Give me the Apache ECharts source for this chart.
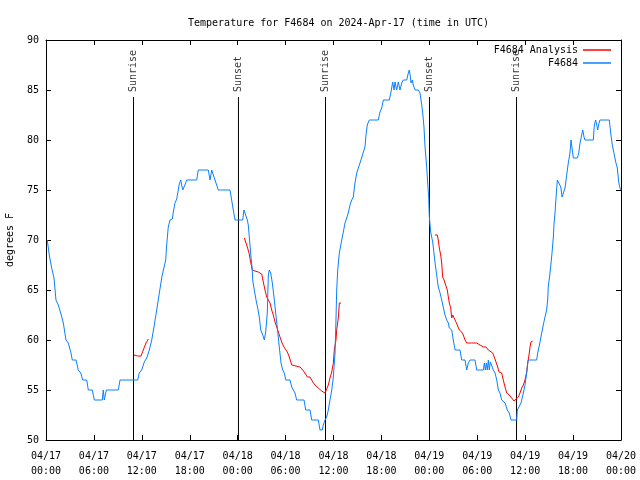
<!DOCTYPE html>
<html>
<head>
<meta charset="utf-8">
<script src="https://cdn.jsdelivr.net/npm/echarts@6/dist/echarts.min.js"></script>
<style>html,body{margin:0;padding:0;background:#fff}#c{width:640px;height:480px}</style>
</head>
<body>
<div id="c"></div>
<script>
// X ticks every 6 hours from 04/17 00:00 (x values are hours since start)
const tickLabels = ['04/17\n00:00','04/17\n06:00','04/17\n12:00','04/17\n18:00','04/18\n00:00','04/18\n06:00','04/18\n12:00','04/18\n18:00','04/19\n00:00','04/19\n06:00','04/19\n12:00','04/19\n18:00','04/20\n00:00'];

// Sunrise / sunset events (hours since start)
const eventHours = [10.96, 24.10, 35.00, 48.02, 58.92];
const eventNames = ['Sunrise', 'Sunset', 'Sunrise', 'Sunset', 'Sunrise'];

// F4684 observations
const obsHours = [0.16,0.41,0.71,1.00,1.25,1.54,1.84,2.17,2.50,2.79,3.13,3.29,3.76,4.04,4.35,4.60,5.10,5.30,5.80,6.05,7.05,7.17,7.30,7.43,7.55,9.05,9.27,11.48,11.68,11.98,12.31,12.61,12.94,13.24,13.52,13.86,14.19,14.53,14.99,15.11,15.31,15.53,15.82,15.94,16.15,16.37,16.57,16.69,16.87,16.99,17.12,17.32,17.49,17.62,18.87,19.07,20.32,20.54,20.75,20.95,21.16,21.37,21.58,23.04,23.25,23.45,23.67,24.63,24.79,25.04,25.21,25.33,25.54,25.67,25.83,25.88,26.08,26.30,26.51,26.71,26.89,27.14,27.34,27.51,27.71,27.84,27.96,28.14,28.34,28.55,28.76,28.96,29.21,29.43,29.64,29.84,30.02,30.55,30.77,30.97,31.18,31.39,32.31,32.52,33.06,33.27,34.10,34.31,34.60,34.72,34.94,35.15,35.35,35.56,35.78,35.98,36.19,36.31,36.40,36.53,36.73,37.03,37.23,37.44,37.65,37.85,38.07,38.28,38.48,38.69,38.91,39.11,39.32,39.44,39.66,39.82,39.94,40.07,40.23,40.48,41.61,41.82,42.04,42.24,42.99,43.20,43.41,43.58,43.70,43.91,44.11,44.33,44.54,44.74,45.17,45.37,45.49,45.58,45.71,45.87,45.99,46.21,46.62,46.83,47.05,47.17,47.33,47.46,47.67,47.79,47.92,48.00,48.17,48.42,48.58,48.75,48.92,49.12,49.34,49.55,49.75,49.96,50.18,50.38,50.50,50.80,51.00,51.22,51.84,52.05,52.47,52.68,52.88,53.09,53.72,53.93,54.76,54.89,55.01,55.14,55.26,55.39,55.51,55.64,55.81,56.01,56.23,56.44,56.64,56.85,57.06,57.48,57.76,58.01,58.23,58.94,59.02,59.27,59.48,59.77,59.98,60.19,60.32,60.39,61.44,61.57,61.86,62.07,62.27,62.48,62.69,62.82,62.89,63.11,63.24,63.36,63.53,63.62,63.74,63.86,64.03,64.28,64.46,64.62,64.78,64.99,65.20,65.40,65.61,65.74,65.90,66.03,66.53,66.71,66.87,67.08,67.21,67.37,67.49,68.53,68.66,68.83,68.96,69.08,69.25,69.37,70.54,70.71,70.91,71.12,71.34,71.54,71.71,71.87,72.00];
const obsTemps = [70,68.5,67.2,66.2,64,63.5,62.7,61.7,60,59.7,58.7,58,58,57,56.7,56,56,55,55,54,54,55,54,54,55,55,56,56,56.7,57,57.8,58.2,59,60,61.3,63,64.7,66.4,68,69.5,71.3,72,72.1,72.8,73.7,74.1,74,75.6,76,75.5,75,75,75.7,76,76,77,77,76,77,76.5,76,75.8,75,75,74,73,72,72,73,73,72,71.5,69.5,68.3,67,66,65,64,63.2,62.3,61,60.5,60,60.8,62.7,66.5,67,66.7,65.7,64.3,62.7,61.3,59.3,57.7,57,56.7,56,56,55.3,55,54.7,54,54,53,53,52,52,51,51,51.5,52,52.3,53,54,55,56.3,58.7,62,65,67,68.7,70,70.8,71.7,72.2,72.7,73.5,74,74.3,75.7,76.7,77.2,77.3,78,78.2,79,79.3,80.5,81.5,82,82,82.8,83.2,84,84,84.8,85.8,85,85.8,85,85.8,85,85.7,86,86,86.7,87,86.6,85.7,86,85.5,85,85,84.7,83.5,82.7,81.3,79.3,77.3,75.7,74.3,72.3,70.8,69.8,68.7,67.5,66.5,65.3,64.7,64,64,62.5,62,61.7,61.2,61,60,59,59,58,58,57,57.7,58,58,57,57,57.7,57,57.7,57,58,57,57.8,58,57,56.7,56,55,54.7,54,53.7,53,52.7,52,52,53,53,53.7,54.7,55.5,56.7,57.7,58,58,58.7,59.8,60.7,61.5,62.3,63,64,65.3,66.7,67.7,68.7,70.3,71.7,72.7,74.2,76,76,75.3,74.3,74.5,75.2,76.5,77.7,78.7,80,79,78.2,78.2,78.7,79.7,80.5,81,80.3,80,80,81.5,82,81.5,81,81.7,82,82,80.7,79.5,78.7,77.8,77.2,75.8,75.2,75];

// F4684 Analysis (three separate runs)
const ana1Hours = [11.02,11.48,11.90,12.18,12.52,12.81];
const ana1Temps = [58.5,58.4,58.4,59,59.7,60.1];
const ana2Hours = [24.83,25.01,25.21,25.42,25.63,25.83,26.17,26.58,27.01,27.21,27.42,27.64,27.84,28.05,28.26,28.46,28.68,28.89,29.09,29.30,29.51,29.80,30.02,30.22,30.47,30.77,30.97,31.81,32.14,32.43,32.72,33.06,33.40,33.68,34.10,34.52,34.94,35.15,35.35,35.56,35.78,35.98,36.10,36.31,36.40,36.60,36.73,36.94];
const ana2Temps = [70.2,70.4,69.3,68.7,67.8,67,66.9,66.8,66.6,65.8,65,64.3,64,63.7,63,62.5,61.8,61.3,60.8,60.3,59.8,59.3,59.3,58.8,58.3,57.5,57.4,57.3,57,56.7,56.3,56.3,55.8,55.5,55.2,54.9,54.7,54.8,55.5,56.2,56.8,57.7,59,60,61,62.2,63.7,63.7];
const ana3Hours = [48.71,49.00,49.12,49.25,49.42,49.55,49.67,49.84,49.96,50.09,50.25,50.38,50.50,50.68,50.80,50.93,51.09,51.34,51.50,51.75,52.05,52.25,52.47,52.68,52.88,53.31,53.93,54.35,54.76,55.10,55.39,55.60,55.94,56.10,56.35,56.56,56.72,57.06,57.26,57.48,57.69,58.01,58.31,58.60,58.85,59.14,59.35,59.57,59.77,59.98,60.19,60.32,60.48,60.61,60.73,60.94];
const ana3Temps = [70.5,70.5,70,69.2,68.5,67.7,66.3,66,66.2,65.8,65,64.3,63.7,63.2,62.2,62.5,62.3,61.8,61.5,61,60.8,60.5,60,59.7,59.6,59.7,59.7,59.5,59.3,59.3,59,58.8,58.7,58.5,57.8,57.3,56.8,56.7,56,55.3,54.7,54.5,54.2,53.9,53.7,54.3,54.7,55.2,55.5,56,56.8,57.7,58.5,59.3,59.8,59.9];

const Y_MIN = 50, Y_MAX = 90, EVENT_TOP = 84.3;

const FONT = 'DejaVu Sans Mono';
const pairs = (xs, ys) => xs.map((x, i) => [x, ys[i]]);

const eventSeries = eventHours.map(h => ({
  type: 'line', data: [[h, Y_MIN], [h, EVENT_TOP]], symbol: 'none', silent: true,
  lineStyle: { color: '#000', width: 1 }, z: 1
}));
const eventLabels = {
  type: 'scatter', symbolSize: 0, silent: true, z: 5,
  data: eventHours.map((h, i) => ({ value: [h, EVENT_TOP], name: eventNames[i] })),
  label: { show: true, position: 'top', distance: 5, rotate: 90, align: 'left', verticalAlign: 'middle',
           formatter: p => p.name, fontFamily: FONT, fontSize: 10, color: '#000' }
};
const redStyle = { color: '#ff0000', width: 1 };
const anaSeries = [[ana1Hours, ana1Temps], [ana2Hours, ana2Temps], [ana3Hours, ana3Temps]].map(([xs, ys]) => ({
  name: 'F4684 Analysis', type: 'line', data: pairs(xs, ys), symbol: 'none', color: '#ff0000',
  lineStyle: redStyle, z: 2
}));
const obsSeries = {
  name: 'F4684', type: 'line', data: pairs(obsHours, obsTemps), symbol: 'none', color: '#0a80ff',
  lineStyle: { color: '#0a80ff', width: 1 }, z: 3
};

const axisCommon = {
  axisLine: { show: true, onZero: false, lineStyle: { color: '#000', width: 1 } },
  axisTick: { show: true, inside: true, length: 5, lineStyle: { color: '#000', width: 1 } },
  splitLine: { show: false }
};
const legendCommon = {
  orient: 'vertical', align: 'right', right: 29, itemWidth: 28, itemHeight: 1.5, icon: 'rect',
  textStyle: { fontFamily: FONT, fontSize: 10, color: '#000' }, itemGap: 2, padding: 0
};

const chart = echarts.init(document.getElementById('c'), null, { renderer: 'canvas' });
chart.setOption({
  animation: false,
  backgroundColor: '#fff',
  title: {
    text: 'Temperature for F4684 on 2024-Apr-17 (time in UTC)',
    left: 333.5, top: 13, textAlign: 'center',
    textStyle: { fontFamily: FONT, fontSize: 10, fontWeight: 'normal', color: '#000' }
  },
  legend: [
    Object.assign({ data: ['F4684 Analysis'], top: 45 }, legendCommon),
    Object.assign({ data: ['F4684'], top: 58 }, legendCommon)
  ],
  grid: { left: 46, right: 19, top: 40, bottom: 40, containLabel: false, outerBoundsMode: 'none' },
  xAxis: [
    Object.assign({ type: 'value', min: 0, max: 72, interval: 6, position: 'bottom',
      axisLabel: { formatter: v => tickLabels[Math.round(v / 6)], fontFamily: FONT, fontSize: 10,
                   color: '#000', lineHeight: 15, margin: 9 } }, axisCommon),
    Object.assign({ type: 'value', min: 0, max: 72, interval: 6, position: 'top',
      axisLabel: { show: false } }, axisCommon)
  ],
  yAxis: [
    Object.assign({ type: 'value', min: Y_MIN, max: Y_MAX, interval: 5, position: 'left',
      name: 'degrees F', nameLocation: 'middle', nameGap: 31, nameRotate: 90,
      nameTextStyle: { fontFamily: FONT, fontSize: 10, color: '#000' },
      axisLabel: { fontFamily: FONT, fontSize: 10, color: '#000', margin: 7 } }, axisCommon),
    Object.assign({ type: 'value', min: Y_MIN, max: Y_MAX, interval: 5, position: 'right',
      axisLabel: { show: false } }, axisCommon)
  ],
  series: [...eventSeries, eventLabels, ...anaSeries, obsSeries]
});
</script>
</body>
</html>
